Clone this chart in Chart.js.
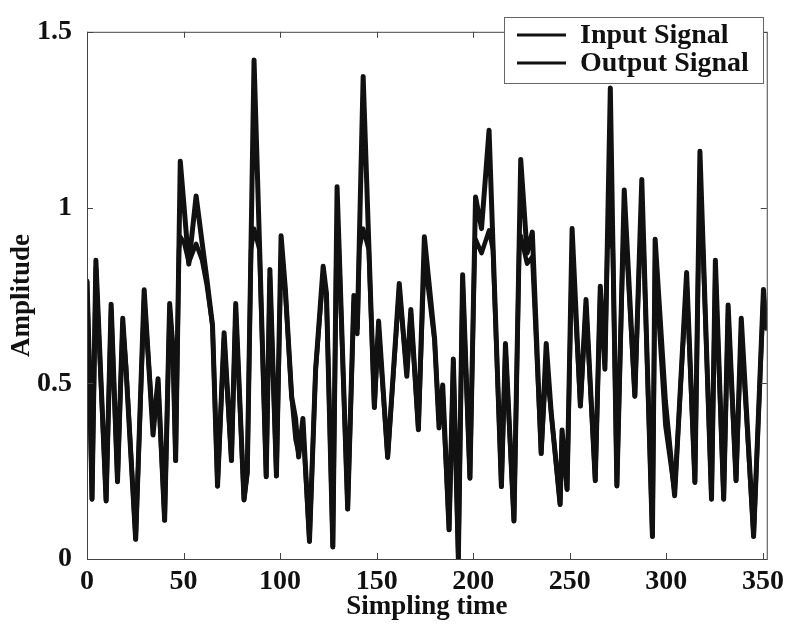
<!DOCTYPE html>
<html>
<head>
<meta charset="utf-8">
<script src="https://cdn.jsdelivr.net/npm/chart.js@4.4.0/dist/chart.umd.min.js"></script>
<style>
  html, body { margin: 0; padding: 0; background: #fff; }
  #wrap { width: 790px; height: 625px; }
</style>
</head>
<body>
<div id="wrap"><canvas id="signalChart" width="790" height="625"></canvas></div>
<script>
// values (vertices of the traces)
const sampleTimes = [
  0, 1.0, 2.6, 4.6, 9.9, 12.5, 15.8, 18.5, 20.2, 25.2, 29.6, 34.2, 36.8, 40.2, 42.8, 44.5, 45.9,
  47.65, 48.3, 50.3, 52.7, 53.9, 56.5, 59.6, 62.0, 65.0, 67.6, 71.0, 74.8, 77.0, 81.3, 83.0,
  84.95, 86.5, 89.3, 92.8, 94.7, 98.1, 100.5, 102.7, 106.0, 108.0, 109.6, 111.8, 115.2, 118.4,
  122.3, 124.0, 127.3, 129.16, 129.5, 130.45, 135.0, 138.2, 140.0, 141.0, 143.0, 145.9, 148.8,
  151.0, 155.7, 161.7, 165.6, 167.7, 171.6, 174.7, 180.0, 182.3, 184.2, 187.5, 189.7, 192.3,
  194.5, 198.3, 200.73, 201.2, 204.3, 208.2, 210.2, 214.6, 216.7, 221.1, 223.8, 224.6, 227.9,
  230.6, 235.2, 237.8, 240.4, 245.0, 246.0, 248.6, 251.2, 255.5, 258.4, 263.2, 265.8, 268.2,
  269.46, 271.0, 272.3, 274.4, 277.52, 278.2, 279.6, 283.7, 286.25, 287.3, 288.27, 292.8, 294.2,
  299.5, 304.3, 310.5, 314.8, 316.68, 317.4, 318.98, 323.4, 325.4, 329.7, 332.0, 336.1, 338.8,
  345.2, 350.3, 352.0
];
const inputSignal = [
  0.79, 0.60, 0.17, 0.85, 0.165, 0.725, 0.22, 0.685, 0.54, 0.056, 0.766, 0.353, 0.513, 0.11, 0.727, 0.60, 0.28,
  0.90, 1.132, 1.00, 0.839, 0.90, 1.033, 0.90, 0.80, 0.664, 0.207, 0.644, 0.28, 0.727, 0.168, 0.246,
  0.90, 1.42, 0.90, 0.234, 0.824, 0.236, 0.92, 0.77, 0.46, 0.40, 0.29, 0.40, 0.05, 0.54,
  0.833, 0.755, 0.034, 0.90, 1.059, 0.90, 0.142, 0.75, 0.657, 0.90, 1.373, 0.90, 0.431,
  0.677, 0.289, 0.784, 0.52, 0.71, 0.368, 0.917, 0.627, 0.373, 0.495, 0.083, 0.569, 0.0,
  0.809, 0.23, 0.90, 1.03, 0.94, 1.22, 0.90, 0.206, 0.613, 0.108, 0.90, 1.137, 0.87,
  0.93, 0.30, 0.613, 0.415, 0.155, 0.367, 0.198, 0.94, 0.435, 0.738, 0.223, 0.776, 0.54,
  0.90, 1.34, 0.90, 0.208, 0.90, 1.05, 0.90, 0.463, 0.90, 1.08, 0.90, 0.064, 0.91,
  0.45, 0.18, 0.815, 0.218, 0.90, 1.16, 0.90, 0.17, 0.85, 0.17, 0.723, 0.223, 0.685,
  0.064, 0.767, 0.656
];
const outputSignal = [
  0.79, 0.58, 0.17, 0.83, 0.165, 0.71, 0.22, 0.67, 0.55, 0.056, 0.74, 0.38, 0.50, 0.11, 0.71, 0.60, 0.28,
  0.88, 0.917, 0.90, 0.845, 0.86, 0.897, 0.85, 0.78, 0.664, 0.207, 0.63, 0.28, 0.71, 0.168, 0.246,
  0.88, 0.94, 0.88, 0.234, 0.80, 0.236, 0.86, 0.76, 0.46, 0.34, 0.30, 0.38, 0.05, 0.54,
  0.81, 0.75, 0.034, 0.88, 0.91, 0.88, 0.142, 0.73, 0.64, 0.88, 0.94, 0.88, 0.431,
  0.66, 0.289, 0.77, 0.53, 0.70, 0.368, 0.86, 0.62, 0.39, 0.47, 0.083, 0.56, 0.0,
  0.79, 0.23, 0.88, 0.91, 0.87, 0.935, 0.88, 0.206, 0.60, 0.108, 0.88, 0.92, 0.84,
  0.86, 0.30, 0.55, 0.415, 0.155, 0.35, 0.198, 0.88, 0.435, 0.72, 0.223, 0.76, 0.56,
  0.88, 0.926, 0.88, 0.208, 0.88, 0.897, 0.86, 0.463, 0.88, 0.90, 0.88, 0.064, 0.85,
  0.38, 0.19, 0.79, 0.218, 0.88, 0.907, 0.88, 0.17, 0.82, 0.17, 0.70, 0.223, 0.65,
  0.064, 0.75, 0.66
];
const xTickValues = [0, 50, 100, 150, 200, 250, 300, 350];
const yTickValues = [0, 0.5, 1, 1.5];
const seriesNames = ['Input Signal', 'Output Signal'];

const FONT = "'Liberation Serif', 'Times New Roman', serif";

// box round the plot, inward tick marks and the boxed legend
const framePlugin = {
  id: 'frame',
  afterDraw(chart) {
    const ctx = chart.ctx;
    const a = chart.chartArea;
    const xs = chart.scales.x;
    const ys = chart.scales.y;
    ctx.save();
    ctx.strokeStyle = '#444';
    ctx.lineWidth = 1;
    ctx.strokeRect(a.left + 0.5, a.top + 0.5, a.right - a.left, a.bottom - a.top);
    ctx.beginPath();
    xs.ticks.forEach(t => {
      const px = Math.round(xs.getPixelForValue(t.value)) + 0.5;
      ctx.moveTo(px, a.bottom); ctx.lineTo(px, a.bottom - 6);
      ctx.moveTo(px, a.top); ctx.lineTo(px, a.top + 6);
    });
    ys.ticks.forEach(t => {
      const py = Math.round(ys.getPixelForValue(t.value)) + 0.5;
      ctx.moveTo(a.left, py); ctx.lineTo(a.left + 6, py);
      ctx.moveTo(a.right, py); ctx.lineTo(a.right - 6, py);
    });
    ctx.stroke();

    // legend
    const bx = 504, by = 17, bw = 259, bh = 66;
    ctx.fillStyle = '#fff';
    ctx.fillRect(bx, by, bw, bh);
    ctx.strokeStyle = '#666';
    ctx.strokeRect(bx + 0.5, by + 0.5, bw, bh);
    ctx.font = 'bold 28px ' + FONT;
    ctx.textBaseline = 'middle';
    ctx.fillStyle = '#111';
    chart.data.datasets.forEach((ds, i) => {
      const ly = 35 + i * 28;
      ctx.strokeStyle = ds.borderColor;
      ctx.lineWidth = 3;
      ctx.beginPath();
      ctx.moveTo(517, ly); ctx.lineTo(566, ly);
      ctx.stroke();
      ctx.fillText(ds.label, 580, ly + 1);
    });
    ctx.restore();
  }
};

const toPoints = (ys) => sampleTimes.map((t, i) => ({ x: t, y: ys[i] }));

new Chart(document.getElementById('signalChart'), {
  type: 'line',
  data: {
    datasets: [
      {
        label: seriesNames[0],
        data: toPoints(inputSignal),
        borderColor: '#111',
        borderWidth: 5,
        borderJoinStyle: 'round',
        borderCapStyle: 'round',
        pointRadius: 0,
        tension: 0,
        fill: false
      },
      {
        label: seriesNames[1],
        data: toPoints(outputSignal),
        borderColor: '#111',
        borderWidth: 4.5,
        borderJoinStyle: 'round',
        borderCapStyle: 'round',
        pointRadius: 0,
        tension: 0,
        fill: false
      }
    ]
  },
  options: {
    responsive: false,
    animation: false,
    devicePixelRatio: 1,
    layout: { padding: { left: 0, right: 20, top: 18, bottom: 0 } },
    plugins: {
      legend: { display: false },
      tooltip: { enabled: false }
    },
    scales: {
      x: {
        type: 'linear',
        min: 0,
        max: 352,
        afterBuildTicks: (s) => { s.ticks = xTickValues.map(v => ({ value: v })); },
        afterFit: (s) => { s.height = 66; },
        grid: { display: false, drawTicks: false },
        border: { display: false },
        ticks: {
          padding: 6,
          maxRotation: 0,
          color: '#111',
          font: { family: FONT, size: 28, weight: 'bold' }
        },
        title: {
          display: true,
          text: 'Simpling time',
          color: '#111',
          padding: { top: 0, bottom: 2 },
          font: { family: FONT, size: 27, weight: 'bold' }
        }
      },
      y: {
        type: 'linear',
        min: 0,
        max: 1.5,
        afterBuildTicks: (s) => { s.ticks = yTickValues.map(v => ({ value: v })); },
        afterFit: (s) => { s.width = 87; },
        grid: { display: false, drawTicks: false },
        border: { display: false },
        ticks: {
          padding: 15,
          color: '#111',
          callback: (v) => String(v),
          font: { family: FONT, size: 28, weight: 'bold' }
        },
        title: {
          display: true,
          text: 'Amplitude',
          color: '#111',
          padding: { top: 6, bottom: 0 },
          font: { family: FONT, size: 27, weight: 'bold' }
        }
      }
    }
  },
  plugins: [framePlugin]
});
</script>
</body>
</html>
